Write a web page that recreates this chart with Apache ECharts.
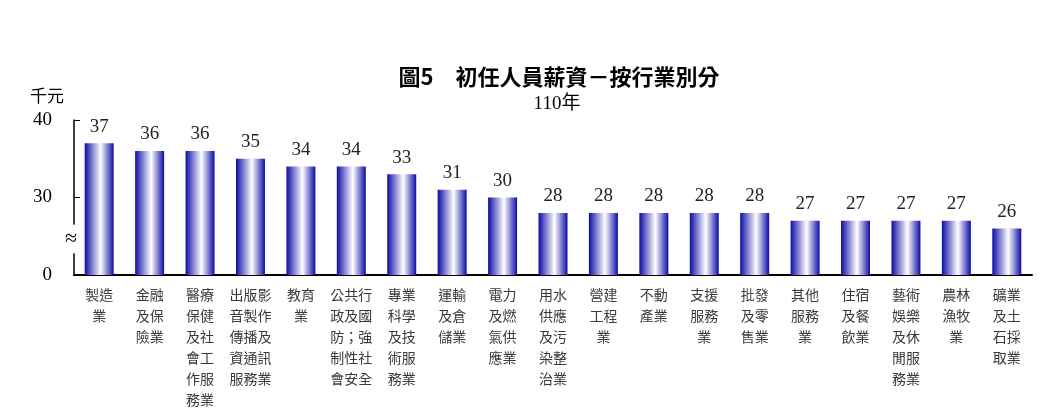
<!DOCTYPE html>
<html>
<head>
<meta charset="utf-8">
<script src="https://cdn.jsdelivr.net/npm/echarts@6.0.0/dist/echarts.min.js"></script>
<style>
  html, body { margin: 0; padding: 0; background: #fff; }
  #chart { width: 1059px; height: 416px; }
</style>
</head>
<body>
<div id="chart"></div>
<script>
// categories (line breaks as printed)
const industries = [
  '製造\n業', '金融\n及保\n險業', '醫療\n保健\n及社\n會工\n作服\n務業', '出版影\n音製作\n傳播及\n資通訊\n服務業',
  '教育\n業', '公共行\n政及國\n防；強\n制性社\n會安全', '專業\n科學\n及技\n術服\n務業', '運輸\n及倉\n儲業',
  '電力\n及燃\n氣供\n應業', '用水\n供應\n及污\n染整\n治業', '營建\n工程\n業', '不動\n產業', '支援\n服務\n業',
  '批發\n及零\n售業', '其他\n服務\n業', '住宿\n及餐\n飲業', '藝術\n娛樂\n及休\n閒服\n務業', '農林\n漁牧\n業',
  '礦業\n及土\n石採\n取業'
];
// starting salary, thousand NTD
const salary = [37, 36, 36, 35, 34, 34, 33, 31, 30, 28, 28, 28, 28, 28, 27, 27, 27, 27, 26];
// axis is broken: bottom tick is printed as 0
const axisMin = 20;
const axisMax = 40;

const serif = '"Liberation Serif", "Noto Sans CJK TC", serif';
const cjk = '"Noto Sans CJK TC", sans-serif';

const chart = echarts.init(document.getElementById('chart'));

const barColor = new echarts.graphic.LinearGradient(0, 0, 1, 0, [
  { offset: 0, color: '#0c0ca6' },
  { offset: 0.55, color: '#ffffff' },
  { offset: 1, color: '#0c0ca6' }
]);

chart.setOption({
  animation: false,
  title: [
    {
      text: '圖5　初任人員薪資－按行業別分',
      left: 554, top: 61, textAlign: 'center',
      textStyle: { fontFamily: cjk, fontSize: 22, fontWeight: 'bold', color: '#000' }
    },
    {
      text: '110年',
      left: 552, top: 90, textAlign: 'center',
      textStyle: { fontFamily: serif, fontSize: 19, fontWeight: 'normal', color: '#000' }
    },
    {
      text: '千元',
      left: 25, top: 82,
      textStyle: { fontFamily: cjk, fontSize: 17, fontWeight: 'normal', color: '#000' }
    }
  ],
  grid: { left: 74, right: 27, top: 120, bottom: 141 },
  xAxis: {
    type: 'category',
    data: industries,
    axisLine: { lineStyle: { color: '#000', width: 2 } },
    axisTick: { show: false },
    axisLabel: {
      interval: 0,
      margin: 9,
      fontFamily: cjk,
      fontSize: 14,
      lineHeight: 21,
      color: '#3a3a3a',
      verticalAlign: 'top'
    }
  },
  yAxis: {
    type: 'value',
    min: axisMin,
    max: axisMax,
    interval: 10,
    splitLine: { show: false },
    axisLine: { show: true, lineStyle: { color: '#000', width: 1.5 } },
    axisTick: { show: true, inside: true, length: 6, lineStyle: { color: '#000' } },
    axisLabel: {
      margin: 22,
      fontFamily: serif,
      fontSize: 19,
      color: '#000',
      formatter: (v) => (v === axisMin ? '0' : String(v))
    }
  },
  series: [
    {
      type: 'bar',
      data: salary,
      barWidth: 29,
      itemStyle: { color: barColor },
      label: {
        show: true,
        position: 'top',
        distance: 7,
        fontFamily: serif,
        fontSize: 19,
        color: '#222'
      }
    }
  ]
});

// axis break mark
const gapTop = chart.convertToPixel({ yAxisIndex: 0 }, 26.5);
const gapBot = chart.convertToPixel({ yAxisIndex: 0 }, 22.8);
const axisX = chart.convertToPixel({ xAxisIndex: 0 }, 0) - 25.2;
chart.setOption({
  graphic: [
    {
      type: 'rect',
      shape: { x: axisX - 3, y: gapTop, width: 6, height: gapBot - gapTop },
      style: { fill: '#fff' },
      z: 100
    },
    {
      type: 'text',
      x: axisX - 3,
      y: (gapTop + gapBot) / 2,
      style: {
        text: '≈',
        fontFamily: serif,
        fontSize: 22,
        fill: '#000',
        align: 'center',
        verticalAlign: 'middle'
      },
      z: 101
    }
  ]
});
</script>
</body>
</html>
